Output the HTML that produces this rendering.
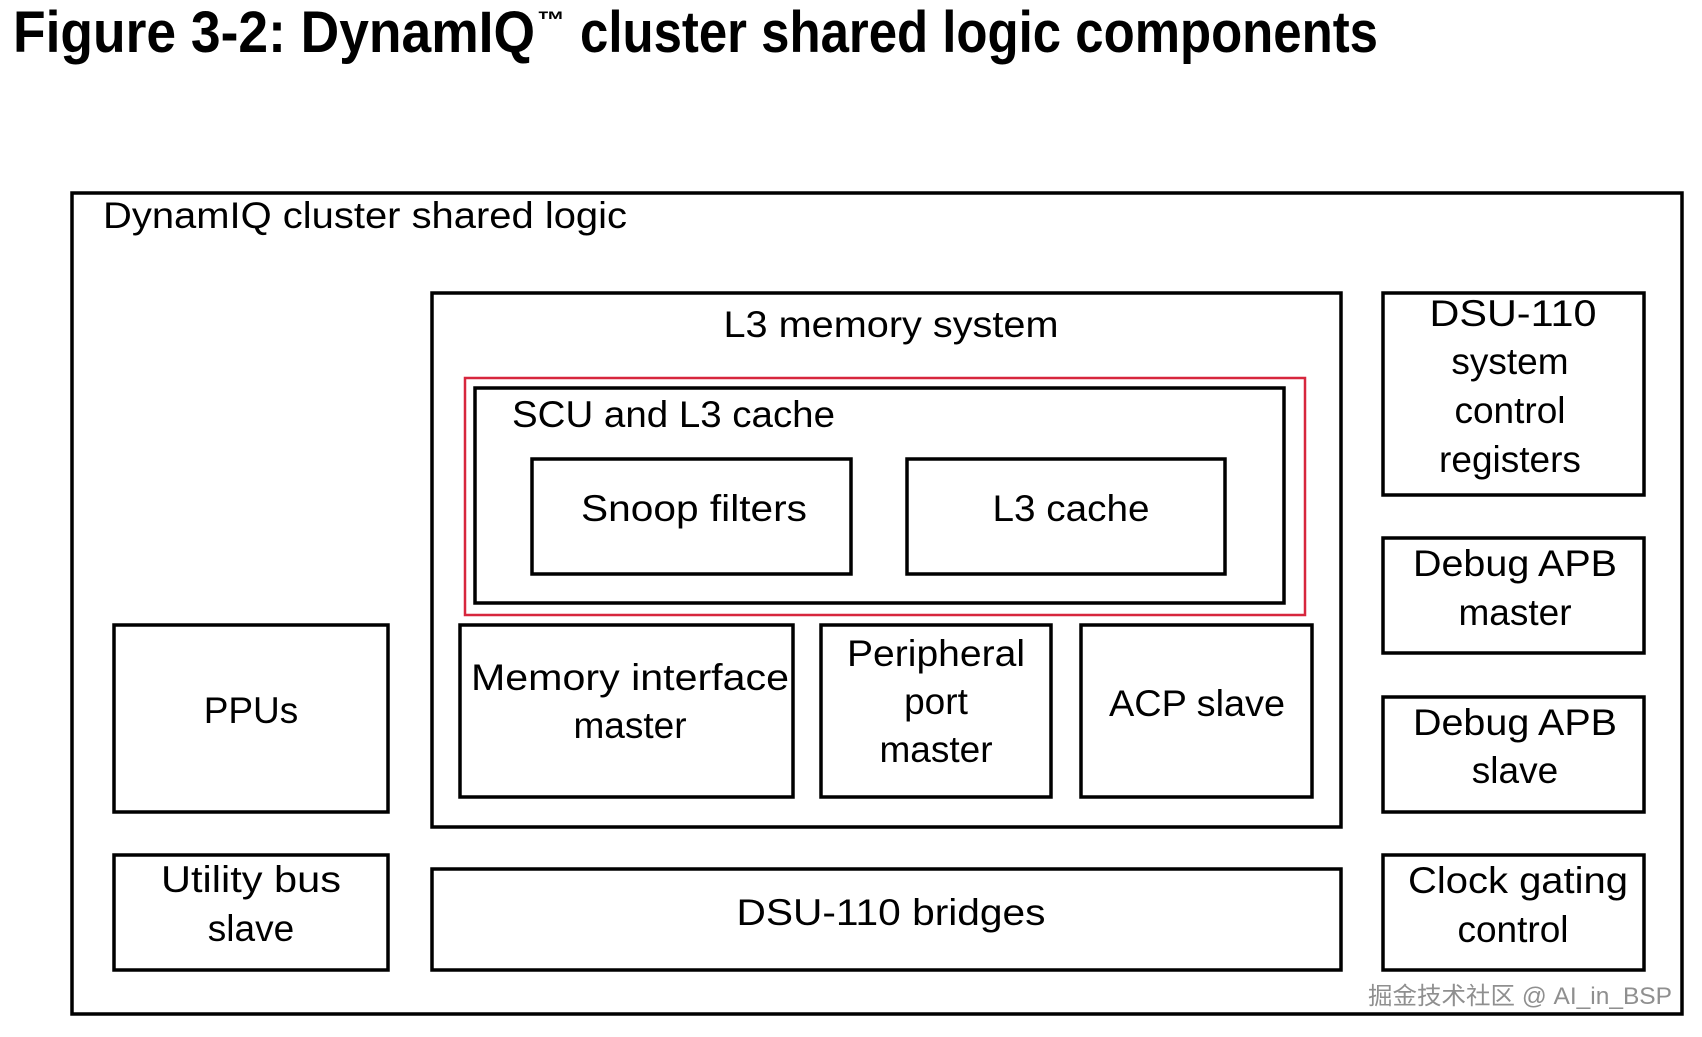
<!DOCTYPE html>
<html><head><meta charset="utf-8"><style>
html,body{margin:0;padding:0;background:#fff;}
svg{display:block;}
text{font-family:"Liberation Sans","Noto Sans CJK SC",sans-serif;fill:#000;}
</style></head><body>
<svg width="1702" height="1037" viewBox="0 0 1702 1037" xmlns="http://www.w3.org/2000/svg">
<g font-weight="bold">
<text x="13" y="52" font-size="58" textLength="522" lengthAdjust="spacingAndGlyphs">Figure 3-2: DynamIQ</text>
<text x="537" y="28" font-size="24" textLength="28" lengthAdjust="spacingAndGlyphs">™</text>
<text x="580" y="52" font-size="58" textLength="798" lengthAdjust="spacingAndGlyphs">cluster shared logic components</text>
</g>
<g fill="none" stroke="#000" stroke-width="3.5">
<rect x="72" y="193" width="1610" height="821"/>
<rect x="432" y="293" width="909" height="534"/>
<rect x="475" y="388" width="809" height="215"/>
<rect x="532" y="459" width="319" height="115"/>
<rect x="907" y="459" width="318" height="115"/>
<rect x="460" y="625" width="333" height="172"/>
<rect x="821" y="625" width="230" height="172"/>
<rect x="1081" y="625" width="231" height="172"/>
<rect x="114" y="625" width="274" height="187"/>
<rect x="114" y="855" width="274" height="115"/>
<rect x="432" y="869" width="909" height="101"/>
<rect x="1383" y="293" width="261" height="202"/>
<rect x="1383" y="538" width="261" height="115"/>
<rect x="1383" y="697" width="261" height="115"/>
<rect x="1383" y="855" width="261" height="115"/>
</g>
<rect x="465" y="378" width="840" height="237" fill="none" stroke="#d7263d" stroke-width="2.5"/>
<g font-size="37">
<text x="103" y="228" textLength="524" lengthAdjust="spacingAndGlyphs">DynamIQ cluster shared logic</text>
<text x="891" y="337" text-anchor="middle" textLength="335" lengthAdjust="spacingAndGlyphs">L3 memory system</text>
<text x="512" y="427" textLength="323" lengthAdjust="spacingAndGlyphs">SCU and L3 cache</text>
<text x="694" y="521" text-anchor="middle" textLength="226" lengthAdjust="spacingAndGlyphs">Snoop filters</text>
<text x="1071" y="521" text-anchor="middle" textLength="157" lengthAdjust="spacingAndGlyphs">L3 cache</text>
<text x="630" y="690" text-anchor="middle" textLength="318" lengthAdjust="spacingAndGlyphs">Memory interface</text>
<text x="630" y="738" text-anchor="middle">master</text>
<text x="936" y="666" text-anchor="middle" textLength="178" lengthAdjust="spacingAndGlyphs">Peripheral</text>
<text x="936" y="714" text-anchor="middle">port</text>
<text x="936" y="762" text-anchor="middle">master</text>
<text x="1197" y="716" text-anchor="middle" textLength="176" lengthAdjust="spacingAndGlyphs">ACP slave</text>
<text x="251" y="723" text-anchor="middle">PPUs</text>
<text x="251" y="892" text-anchor="middle" textLength="180" lengthAdjust="spacingAndGlyphs">Utility bus</text>
<text x="251" y="941" text-anchor="middle">slave</text>
<text x="891" y="925" text-anchor="middle" textLength="309" lengthAdjust="spacingAndGlyphs">DSU-110 bridges</text>
<text x="1513" y="326" text-anchor="middle" textLength="167" lengthAdjust="spacingAndGlyphs">DSU-110</text>
<text x="1510" y="374" text-anchor="middle">system</text>
<text x="1510" y="423" text-anchor="middle">control</text>
<text x="1510" y="472" text-anchor="middle">registers</text>
<text x="1515" y="576" text-anchor="middle" textLength="204" lengthAdjust="spacingAndGlyphs">Debug APB</text>
<text x="1515" y="625" text-anchor="middle">master</text>
<text x="1515" y="735" text-anchor="middle" textLength="204" lengthAdjust="spacingAndGlyphs">Debug APB</text>
<text x="1515" y="783" text-anchor="middle">slave</text>
<text x="1518" y="893" text-anchor="middle" textLength="220" lengthAdjust="spacingAndGlyphs">Clock gating</text>
<text x="1513" y="942" text-anchor="middle">control</text>
</g>
<text x="1368" y="1004" font-size="24" textLength="304" lengthAdjust="spacingAndGlyphs" style="fill:#8f8f8f">掘金技术社区 @ AI_in_BSP</text>
</svg>
</body></html>
